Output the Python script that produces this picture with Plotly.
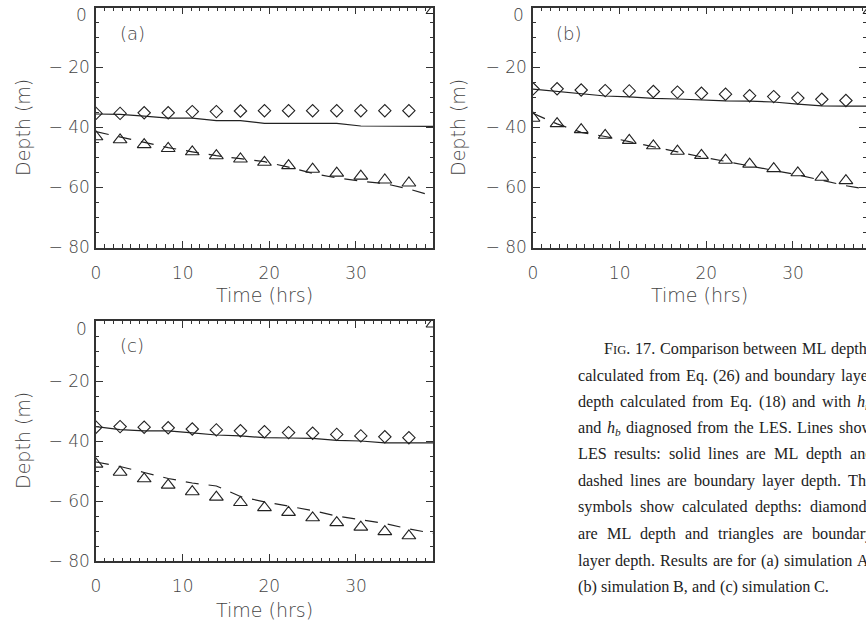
import plotly.graph_objects as go

# ---------------- data ----------------
t_sym = [0.0, 2.78, 5.56, 8.33, 11.11, 13.89, 16.67, 19.44, 22.22, 25.0, 27.78, 30.56, 33.33, 36.11]
t_tri = [0.0, 2.78, 5.56, 8.33, 11.11, 13.89, 16.67, 19.44, 22.22, 25.0, 27.78, 30.56, 33.33, 36.11, 38.89]
t_line = [0.0, 2.78, 5.56, 8.33, 11.11, 13.89, 16.67, 19.44, 22.22, 25.0, 27.78, 30.56, 33.33, 36.11, 38.89]

# panel (a)
dia_a = [-35.3, -35.3, -35.1, -35.1, -34.7, -34.7, -34.5, -34.4, -34.4, -34.4, -34.4, -34.4, -34.4, -34.4]
tri_a = [-43.1, -44.1, -45.7, -47.0, -48.1, -49.4, -50.5, -51.6, -52.7, -53.9, -55.2, -56.2, -57.5, -58.5, -1.0]
ml_a = [-35.5, -35.6, -36.2, -36.9, -36.9, -37.7, -37.7, -38.6, -38.6, -38.6, -38.6, -39.5, -39.5, -39.6, -39.6]
bl_a = [-41.4, -43.2, -45.1, -46.7, -48.1, -49.4, -50.4, -51.4, -53.2, -55.3, -56.8, -57.9, -58.7, -60.5, -62.8]

# panel (b)
dia_b = [-27.1, -27.1, -27.5, -27.7, -27.8, -28.0, -28.2, -28.6, -28.9, -29.4, -29.7, -30.2, -30.6, -31.0]
tri_b = [-36.9, -38.7, -40.7, -42.6, -44.3, -46.1, -47.9, -49.3, -50.9, -52.2, -53.7, -55.1, -56.6, -57.7, -1.0]
ml_b = [-27.2, -28.0, -28.9, -29.5, -29.8, -30.3, -30.5, -30.9, -31.1, -31.2, -31.5, -32.2, -32.8, -32.9, -32.9]
bl_b = [-35.3, -38.8, -41.6, -43.0, -44.7, -46.5, -48.1, -49.8, -51.3, -53.0, -54.5, -55.8, -57.6, -59.4, -60.8]

# panel (c)
dia_c = [-35.4, -35.2, -35.4, -35.6, -36.0, -36.3, -36.6, -36.9, -37.2, -37.4, -37.8, -38.3, -38.6, -38.9]
tri_c = [-47.7, -50.4, -52.6, -54.7, -56.9, -58.7, -60.5, -62.2, -63.8, -65.6, -67.2, -68.7, -70.2, -71.6, -1.0]
ml_c = [-35.2, -36.2, -36.6, -36.6, -37.3, -38.0, -38.3, -38.9, -39.0, -39.1, -39.8, -40.0, -40.6, -40.6, -40.6]
bl_c = [-47.0, -48.5, -50.5, -52.5, -54.0, -55.0, -58.5, -60.3, -61.7, -63.2, -65.0, -66.2, -67.5, -69.3, -70.8]

x_ticks = [0, 10, 20, 30]
x_ticktext = ["0", "10", "20", "30"]
y_ticks = [0, -20, -40, -60, -80]
# the "0" label sits a little below its tick in the original; it is drawn separately
y_ticktext = ["", "\u2212 20", "\u2212 40", "\u2212 60", "\u2212 80"]
y_zero_label = "0"

panel_labels = ["(a)", "(b)", "(c)"]
x_title = "Time (hrs)"
y_title = "Depth (m)"

FIG_WORD = "F<span style='font-size:12.5px'>IG</span>."
HM = "<i>h<sub>m</sub></i>"
HB = "<i>h<sub>b</sub></i>"
caption_lines = [
    [FIG_WORD, "17.", "Comparison", "between", "ML", "depths"],
    "calculated from Eq. (26) and boundary layer".split(),
    "depth calculated from Eq. (18) and with".split() + [HM],
    ["and", HB] + "diagnosed from the LES. Lines show".split(),
    "LES results: solid lines are ML depth and".split(),
    "dashed lines are boundary layer depth. The".split(),
    "symbols show calculated depths: diamonds".split(),
    "are ML depth and triangles are boundary".split(),
    "layer depth. Results are for (a) simulation A,".split(),
    "(b) simulation B, and (c) simulation C.".split(),
]

# ---------------- figure ----------------
W, H = 866, 623
INK = "#222222"
AX = "#333333"
TXT = "#444444"
FONT = "DejaVu Sans"
WEIGHT = 300
CAP_FONT = "Liberation Serif"
CAP_SIZE = 16.2

# Times-Roman advance widths (1/1000 em), Liberation Serif is metric compatible
TW = {" ": 250, "!": 333, "(": 333, ")": 333, ",": 250, "-": 333, ".": 250, ":": 278,
      "A": 722, "B": 667, "C": 667, "D": 722, "E": 611, "F": 556, "G": 722, "H": 722,
      "I": 333, "L": 611, "M": 889, "R": 667, "S": 556, "T": 611,
      "a": 444, "b": 500, "c": 444, "d": 500, "e": 444, "f": 333, "g": 500, "h": 500,
      "i": 278, "j": 278, "k": 500, "l": 278, "m": 778, "n": 500, "o": 500, "p": 500,
      "q": 500, "r": 333, "s": 389, "t": 278, "u": 500, "v": 500, "w": 722, "x": 500,
      "y": 500, "z": 444}
for d in "0123456789":
    TW[d] = 500
SPECIAL_W = {
    FIG_WORD: 556 + (333 + 722) * 12.5 / CAP_SIZE + 250,
    HM: 500 + 722 * 0.7,
    HB: 500 + 500 * 0.7,
}


def word_w(w):
    if w in SPECIAL_W:
        return SPECIAL_W[w] * CAP_SIZE / 1000
    return sum(TW.get(ch, 500) for ch in w) * CAP_SIZE / 1000


def px_x(v):
    return v / W


def px_y(v):
    return 1 - v / H


fig = go.Figure()

panels = [
    ("x", "y", dia_a, tri_a, ml_a, bl_a),
    ("x2", "y2", dia_b, tri_b, ml_b, bl_b),
    ("x3", "y3", dia_c, tri_c, ml_c, bl_c),
]

for xa, ya, dia, tri, ml, bl in panels:
    fig.add_trace(go.Scatter(x=t_line, y=ml, mode="lines", xaxis=xa, yaxis=ya,
                             line=dict(color=INK, width=1.2), showlegend=False))
    fig.add_trace(go.Scatter(x=t_line, y=bl, mode="lines", xaxis=xa, yaxis=ya,
                             line=dict(color=INK, width=1.2, dash="13px,10px"), showlegend=False))
    fig.add_trace(go.Scatter(x=t_sym, y=dia, mode="markers", xaxis=xa, yaxis=ya,
                             marker=dict(symbol="diamond-open", size=9.5,
                                         color=INK, line=dict(color=INK, width=1.1)),
                             showlegend=False))
    fig.add_trace(go.Scatter(x=t_tri, y=tri, mode="markers", xaxis=xa, yaxis=ya,
                             marker=dict(symbol="triangle-up-open", size=12,
                                         color=INK, line=dict(color=INK, width=1.1)),
                             showlegend=False))


def xaxis(domain, rng, anchor):
    return dict(domain=domain, range=rng, anchor=anchor, automargin=False,
                tickmode="array", tickvals=x_ticks, ticktext=x_ticktext,
                ticks="inside", ticklen=7, tickwidth=1, tickcolor=AX,
                minor=dict(ticks="inside", ticklen=3.5, tickwidth=1, dtick=1, tick0=0,
                           tickcolor=AX, showgrid=False),
                showline=True, linecolor=AX, linewidth=1.5, mirror="allticks",
                showgrid=False, zeroline=False,
                tickfont=dict(family=FONT, size=17, color=TXT, weight=WEIGHT),
                ticklabelstandoff=9)


def yaxis(domain, anchor):
    return dict(domain=domain, range=[-80, 0], anchor=anchor, automargin=False,
                tickmode="array", tickvals=y_ticks, ticktext=y_ticktext,
                ticks="inside", ticklen=7, tickwidth=1, tickcolor=AX,
                minor=dict(ticks="inside", ticklen=3.5, tickwidth=1, dtick=5, tick0=0,
                           tickcolor=AX, showgrid=False),
                showline=True, linecolor=AX, linewidth=1.5, mirror="allticks",
                showgrid=False, zeroline=False,
                tickfont=dict(family=FONT, size=17, color=TXT, weight=WEIGHT),
                ticklabelstandoff=1)


dom_x_left = [px_x(96), px_x(433)]
dom_x_right = [px_x(533), 1.0]
dom_y_top = [px_y(247.5), px_y(7.5)]
dom_y_bot = [px_y(561), px_y(321)]

fig.update_layout(
    width=W, height=H,
    margin=dict(l=0, r=0, t=0, b=0, autoexpand=False),
    paper_bgcolor="white", plot_bgcolor="white",
    xaxis=xaxis(dom_x_left, [0, 38.89], "y"),
    yaxis=yaxis(dom_y_top, "x"),
    xaxis2=xaxis(dom_x_right, [0, 38.43], "y2"),
    yaxis2=yaxis(dom_y_top, "x2"),
    xaxis3=xaxis(dom_x_left, [0, 38.89], "y3"),
    yaxis3=yaxis(dom_y_bot, "x3"),
)

ann = []
# zero labels of the y axes
for cx, cy in [(89, 15.5), (526, 15.5), (89, 329)]:
    ann.append(dict(text=y_zero_label, x=px_x(cx), y=px_y(cy), xref="paper", yref="paper",
                    showarrow=False, xanchor="right", yanchor="middle",
                    font=dict(family=FONT, size=17, color=TXT, weight=WEIGHT)))
# panel labels
for lab, (cx, cy) in zip(panel_labels, [(132, 33), (568, 33), (132, 345)]):
    ann.append(dict(text=lab, x=px_x(cx), y=px_y(cy), xref="paper", yref="paper",
                    showarrow=False, xanchor="center", yanchor="middle",
                    font=dict(family=FONT, size=18, color=TXT, weight=WEIGHT)))
# axis titles
for cx, cy in [(264.5, 295), (699.5, 295), (264.5, 610)]:
    ann.append(dict(text=x_title, x=px_x(cx), y=px_y(cy), xref="paper", yref="paper",
                    showarrow=False, xanchor="center", yanchor="middle",
                    font=dict(family=FONT, size=19, color=TXT, weight=WEIGHT)))
for cx, cy in [(23, 128), (458, 128), (23, 441)]:
    ann.append(dict(text=y_title, x=px_x(cx), y=px_y(cy), xref="paper", yref="paper",
                    showarrow=False, xanchor="center", yanchor="middle", textangle=-90,
                    font=dict(family=FONT, size=19, color=TXT, weight=WEIGHT)))

# caption: justified, word by word
cap_y = [349, 376, 402, 428, 454, 481, 507, 534, 561, 587]
RIGHT = 872
space_w = TW[" "] * CAP_SIZE / 1000
for i, (words, cy) in enumerate(zip(caption_lines, cap_y)):
    x0 = 603 if i == 0 else 577
    widths = [word_w(w) for w in words]
    if i < len(caption_lines) - 1 and len(words) > 1:
        gap = max(space_w, (RIGHT - x0 - sum(widths)) / (len(words) - 1))
    else:
        gap = space_w
    x = x0
    for w, ww in zip(words, widths):
        if x < W - 2:
            ann.append(dict(text=w, x=px_x(x), y=px_y(cy - 10), xref="paper", yref="paper",
                            showarrow=False, xanchor="left", yanchor="top", borderpad=0,
                            font=dict(family=CAP_FONT, size=CAP_SIZE, color="#222222")))
        x += ww + gap

fig.update_layout(annotations=ann)

fig.write_html("out.html", config={"displayModeBar": False},
               post_script="document.body.style.margin='0';document.body.style.overflow='hidden';")
